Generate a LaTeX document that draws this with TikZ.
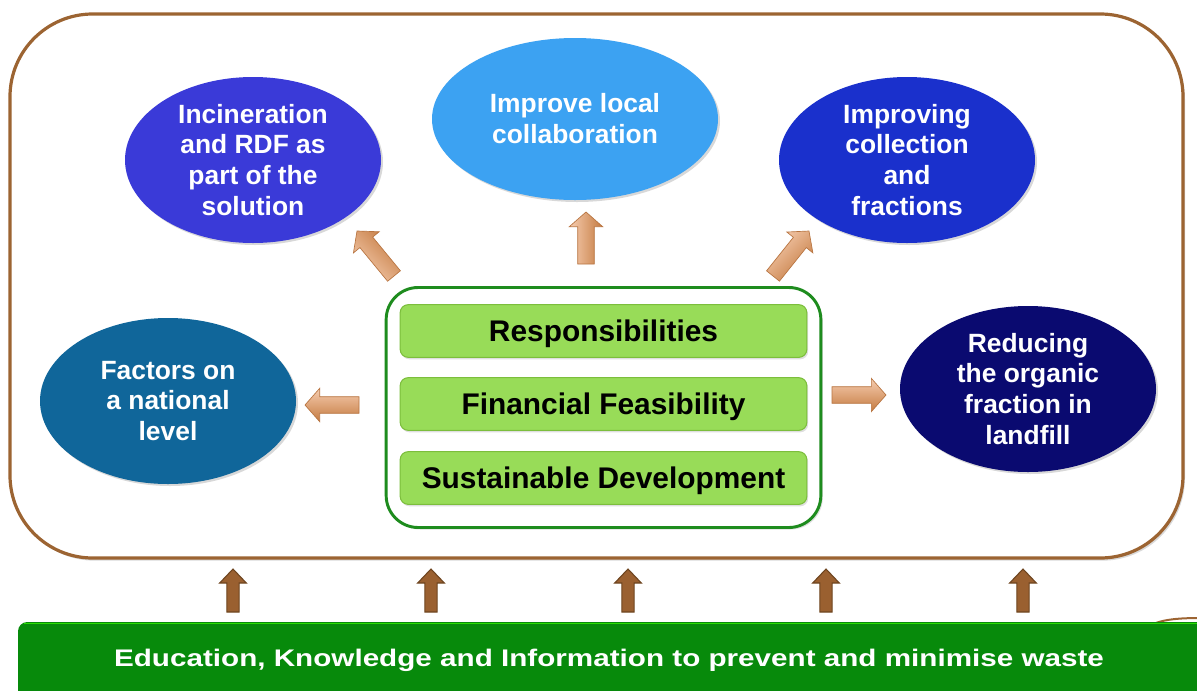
\documentclass[tikz,border=0pt]{standalone}
\usepackage{fontspec}
\setmainfont{Liberation Sans}
\newfontfamily\widefont[FakeStretch=1.235]{Liberation Sans}
\usetikzlibrary{shapes.geometric,shadows,calc}
\definecolor{brownline}{HTML}{9C6432}
\definecolor{brownfill}{HTML}{9A6030}
\definecolor{browndark}{HTML}{6E4520}
\definecolor{tanlight}{HTML}{F6CDB0}
\definecolor{tandark}{HTML}{C47A40}
\definecolor{tanedge}{HTML}{B87440}
\definecolor{cIncin}{HTML}{3A3AD8}
\definecolor{cLocal}{HTML}{3CA2F2}
\definecolor{cCollect}{HTML}{1A30CC}
\definecolor{cFactors}{HTML}{10669A}
\definecolor{cReduce}{HTML}{0A0A70}
\definecolor{barfill}{HTML}{98DC58}
\definecolor{baredge}{HTML}{7CBE3C}
\definecolor{boxgreen}{HTML}{1E8C1E}
\definecolor{edugreen}{HTML}{078A0B}
\newcommand\blockarr[6]{%
  \coordinate (hb) at ($(#3)!#6!(#2)$);
  \path[#1] ($(#2)!#4!90:(#3)$) -- ($(hb)!#4!-90:(#2)$) -- ($(hb)!#5!-90:(#2)$) -- (#3)
     -- ($(hb)!#5!90:(#2)$) -- ($(hb)!#4!90:(#2)$) -- ($(#2)!#4!-90:(#3)$) -- cycle;}
\begin{document}
\begin{tikzpicture}[x=0.75pt,y=-0.75pt,
  oval/.style={ellipse, fill=#1, inner sep=0pt, minimum width=192pt, minimum height=124.5pt,
     text=white, align=center, font=\bfseries\fontsize{19.8}{23.2}\selectfont,
     drop shadow={opacity=0.3, shadow xshift=1.5pt, shadow yshift=-1.5pt}},
  barbox/.style={draw=baredge, fill=barfill, line width=0.8pt, rounded corners=6pt,
     minimum width=305pt, minimum height=39.5pt, inner sep=0pt, text height=16pt, text depth=0pt,
     font=\bfseries\fontsize{22.4}{24}\selectfont,
     drop shadow={opacity=0.25, shadow xshift=1pt, shadow yshift=-1.5pt}},
  tanarrow/.style={draw=tanedge, line width=0.5pt, line join=miter,
     top color=tanlight, bottom color=tandark, shading angle=#1},
  brownarrow/.style={fill=brownfill, draw=browndark, line width=0.8pt, line join=miter}]
\useasboundingbox (0,0) rectangle (1197,690);

% outer frame
\node[draw=brownline, line width=2.4pt, rounded corners=62pt, fill=white,
      minimum width=879.75pt, minimum height=408pt, inner sep=0pt,
      drop shadow={opacity=0.3, shadow xshift=1.5pt, shadow yshift=-2pt}] (outer) at (596.5,286) {};

% partial brown shape at bottom right
\draw[brownline, line width=1.5pt] (1140,634) .. controls (1150,622) and (1165,618) .. (1200,618);

% bottom bar
\fill[edugreen, rounded corners=7pt] (18,622) rectangle (1215,700);
\draw[green!70!lime, line width=1.2pt, opacity=0.7] (24,623.5) -- (1197,623.5);
\node[text=white, font=\widefont\bfseries\fontsize{18}{22}\selectfont] (edu) at (609,660)
  {Education, Knowledge and Information to prevent and minimise waste};

% ellipses
\node[oval=cIncin] (incin) at (253,160) {Incineration\\and RDF as\\part of the\\solution};
\node[oval=cLocal, minimum width=214.5pt, minimum height=121.5pt] (local) at (575,119) {Improve local\\collaboration};
\node[oval=cCollect] (collect) at (907,160) {Improving\\collection\\and\\fractions};
\node[oval=cFactors] (factors) at (168,401) {Factors on\\a national\\level};
\node[oval=cReduce] (reduce) at (1028,389) {Reducing\\the organic\\fraction in\\landfill};

% central container
\node[draw=boxgreen, line width=2.2pt, rounded corners=24pt, minimum width=326pt, minimum height=180pt,
      inner sep=0pt, fill=white, drop shadow={opacity=0.25, shadow xshift=1.5pt, shadow yshift=-1.5pt}]
      (core) at (603.5,407.5) {};
\node[barbox] (resp) at (603.5,331) {Responsibilities};
\node[barbox] (fin) at (603.5,404) {Financial Feasibility};
\node[barbox] (sust) at (603.5,478) {Sustainable Development};

% tan arrows from core to ellipses
\coordinate (tl1) at (359,405); \coordinate (tl2) at (305,405);
\coordinate (tu1) at (394,276); \coordinate (tu2) at (357,231);
\coordinate (tm1) at (586,264); \coordinate (tm2) at (586,212);
\coordinate (tr1) at (773,276); \coordinate (tr2) at (809,231);
\coordinate (tx1) at (832,395); \coordinate (tx2) at (886,395);
\blockarr{tanarrow=0}{tl1}{tl2}{6.2pt}{12.5pt}{11pt}
\blockarr{tanarrow=135}{tu1}{tu2}{6.2pt}{12.5pt}{11pt}
\blockarr{tanarrow=90}{tm1}{tm2}{6.2pt}{12.5pt}{11pt}
\blockarr{tanarrow=45}{tr1}{tr2}{6.2pt}{12.5pt}{11pt}
\blockarr{tanarrow=0}{tx1}{tx2}{6.2pt}{12.5pt}{11pt}

% brown up arrows from bottom bar to frame
\foreach \i/\x in {1/233,2/431,3/628,4/826,5/1023}{
  \coordinate (ub\i) at (\x,612);
  \coordinate (ut\i) at (\x,569);
  \blockarr{brownarrow}{ub\i}{ut\i}{4.6pt}{10pt}{10.5pt}
}
\end{tikzpicture}
\end{document}
